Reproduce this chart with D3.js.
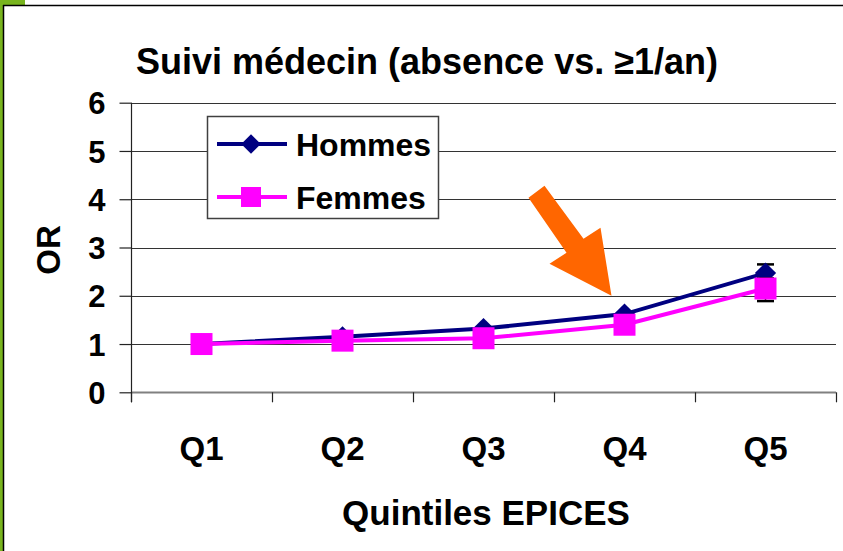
<!DOCTYPE html>
<html>
<head>
<meta charset="utf-8">
<script src="https://cdn.jsdelivr.net/npm/d3@7"></script>
<style>
  body { margin: 0; background: #fff; }
  text { font-family: "Liberation Sans", Arial, sans-serif; font-weight: bold; fill: #000; }
</style>
</head>
<body>
<div id="chart"></div>
<script>
// data
var quintiles = ["Q1", "Q2", "Q3", "Q4", "Q5"];
var hommes = [1.0, 1.15, 1.32, 1.62, 2.47];
var femmes = [1.0, 1.07, 1.12, 1.40, 2.15];
// confidence intervals, only visible at Q5
var hommesLow = [null, null, null, null, 2.25];
var hommesHigh = [null, null, null, null, 2.65];
var femmesLow = [null, null, null, null, 1.89];
var femmesHigh = [null, null, null, null, 2.36];
var yTicks = [0, 1, 2, 3, 4, 5, 6];

var svgWidth = 843;
var svgHeight = 551;

var svg = d3.select("#chart")
    .append("svg")
    .attr("width", svgWidth)
    .attr("height", svgHeight);

// slide frame: green corner + thin black border
svg.append("rect").attr("x", 0).attr("y", 0).attr("width", 25).attr("height", 5).attr("fill", "#78b41e");
svg.append("rect").attr("x", 0).attr("y", 0).attr("width", 3).attr("height", svgHeight).attr("fill", "#78b41e");
svg.append("line").attr("x1", 3).attr("y1", 5.5).attr("x2", svgWidth).attr("y2", 5.5).attr("stroke", "#000").attr("stroke-width", 1.5);
svg.append("line").attr("x1", 3.5).attr("y1", 5).attr("x2", 3.5).attr("y2", svgHeight).attr("stroke", "#000").attr("stroke-width", 1.5);

// plot area
var plotLeft = 131, plotRight = 836, plotTop = 102.7, plotBottom = 392.3;

var x = d3.scaleBand().domain(quintiles).range([plotLeft, plotRight]);
var y = d3.scaleLinear().domain([0, 6]).range([plotBottom, plotTop]);
var cx = d => x(d) + x.bandwidth() / 2;

// gridlines
svg.append("g").selectAll("line")
    .data(yTicks)
    .enter().append("line")
    .attr("x1", plotLeft).attr("x2", plotRight)
    .attr("y1", d => Math.round(y(d)) + 0.5)
    .attr("y2", d => Math.round(y(d)) + 0.5)
    .attr("stroke", d => d == 0 ? "#808080" : "#333")
    .attr("stroke-width", d => d == 0 ? 2 : 1.2);

// y axis
var leftAxis = d3.axisLeft(y).tickValues(yTicks).tickFormat(d3.format("d")).tickSize(12).tickPadding(14);
var gy = svg.append("g")
    .attr("transform", `translate(${plotLeft + 0.5}, 0)`)
    .call(leftAxis);
gy.select(".domain").attr("d", `M0,${plotTop}V${plotBottom + 10}`).attr("stroke", "#222").attr("stroke-width", 1.2);
gy.selectAll(".tick line").attr("stroke", "#222").attr("stroke-width", 1.2);
gy.selectAll(".tick text")
    .style("font-size", "31px")
    .style("font-family", "Liberation Sans, Arial")
    .style("font-weight", "bold")
    .attr("fill", "#000")
    .attr("dy", "0.36em");

// x axis tick marks at category boundaries
svg.append("g").selectAll("line")
    .data(quintiles.concat(["end"]))
    .enter().append("line")
    .attr("x1", (d, i) => Math.round(plotLeft + i * x.bandwidth()) + 0.5)
    .attr("x2", (d, i) => Math.round(plotLeft + i * x.bandwidth()) + 0.5)
    .attr("y1", plotBottom)
    .attr("y2", plotBottom + 10)
    .attr("stroke", "#222")
    .attr("stroke-width", 1.2);

svg.append("g").selectAll("text")
    .data(quintiles)
    .enter().append("text")
    .attr("x", d => cx(d))
    .attr("y", 460)
    .attr("text-anchor", "middle")
    .style("font-size", "33px")
    .text(d => d);

// titles
svg.append("text")
    .attr("x", 427)
    .attr("y", 74)
    .attr("text-anchor", "middle")
    .style("font-size", "36px")
    .text("Suivi médecin (absence vs. ≥1/an)");

svg.append("text")
    .attr("x", 486)
    .attr("y", 525)
    .attr("text-anchor", "middle")
    .style("font-size", "35px")
    .text("Quintiles EPICES");

svg.append("text")
    .attr("transform", "translate(60, 250) rotate(-90)")
    .attr("text-anchor", "middle")
    .style("font-size", "33px")
    .text("OR");

// legend
var legend = svg.append("g");
legend.append("rect")
    .attr("x", 207.5).attr("y", 116.5).attr("width", 231).attr("height", 102)
    .attr("fill", "#fff").attr("stroke", "#404040").attr("stroke-width", 1.5);

var diamond = d3.symbol().type(d3.symbolDiamond2).size(2 * 12 * 12);
var square = d3.symbol().type(d3.symbolSquare).size(22 * 22);

var series = [
    { name: "Hommes", values: hommes, low: hommesLow, high: hommesHigh, color: "#000080", symbol: diamond },
    { name: "Femmes", values: femmes, low: femmesLow, high: femmesHigh, color: "#ff00ff", symbol: square }
];

series.forEach(function(s, k) {
    var ly = 144 + k * 53;
    legend.append("line").attr("x1", 217).attr("x2", 287).attr("y1", ly).attr("y2", ly)
        .attr("stroke", s.color).attr("stroke-width", 4);
    legend.append("path").attr("d", k == 0 ? d3.symbol().type(d3.symbolDiamond2).size(2 * 11 * 11)() : d3.symbol().type(d3.symbolSquare).size(20 * 20)())
        .attr("transform", `translate(251, ${ly})`).attr("fill", s.color);
    legend.append("text").attr("x", 296).attr("y", ly + 12).style("font-size", "32px").text(s.name);
});

// series lines, error bars, markers
var line = d3.line().x((d, i) => cx(quintiles[i])).y(d => y(d));

series.forEach(function(s) {
    var g = svg.append("g");
    g.append("path")
        .attr("d", line(s.values))
        .attr("fill", "none")
        .attr("stroke", s.color)
        .attr("stroke-width", 4);

    var bars = quintiles.map((q, i) => ({ q: q, lo: s.low[i], hi: s.high[i] })).filter(d => d.lo != null);
    bars.forEach(function(b) {
        g.append("line").attr("x1", cx(b.q)).attr("x2", cx(b.q)).attr("y1", y(b.lo)).attr("y2", y(b.hi))
            .attr("stroke", "#000").attr("stroke-width", 1.5);
        [b.lo, b.hi].forEach(function(v) {
            g.append("line").attr("x1", cx(b.q) - 8.5).attr("x2", cx(b.q) + 8.5).attr("y1", y(v)).attr("y2", y(v))
                .attr("stroke", "#000").attr("stroke-width", 2.5);
        });
    });

    g.selectAll("path.marker")
        .data(s.values)
        .enter().append("path")
        .attr("class", "marker")
        .attr("d", s.symbol())
        .attr("transform", (d, i) => `translate(${cx(quintiles[i])}, ${y(d)})`)
        .attr("fill", s.color);
});

// orange arrow pointing at Q4, tip placed relative to the scales
var tipX = cx("Q4") - 13, tipY = y(2.0);
var arrowShape = [[0, 0], [-62, -32], [-45, -43], [-83, -98], [-67, -110], [-28, -57], [-11, -68]];
svg.append("polygon")
    .attr("points", arrowShape.map(p => [tipX + p[0], tipY + p[1]].join(",")).join(" "))
    .attr("fill", "#ff6600");
</script>
</body>
</html>
